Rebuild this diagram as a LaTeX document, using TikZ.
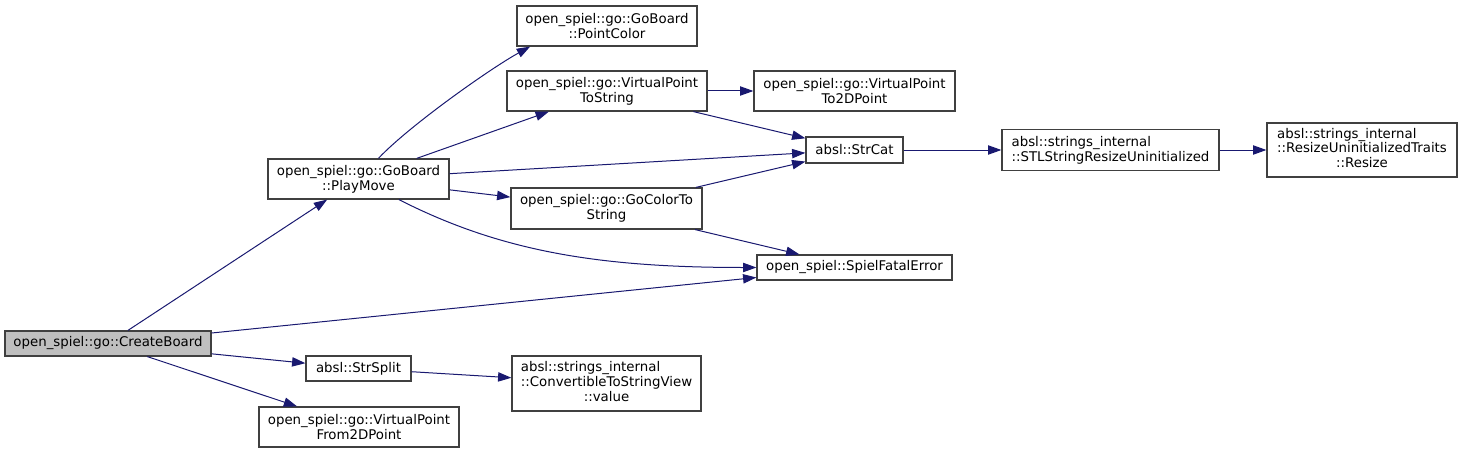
\documentclass[tikz,border=0pt]{standalone}
\usepackage{fontspec}
\setmainfont{DejaVu Sans}
\usepackage{tikz}
\usetikzlibrary{arrows.meta}
\definecolor{edgeblue}{HTML}{191970}
\definecolor{boxgray}{HTML}{404040}
\definecolor{rootgray}{HTML}{BFBFBF}
\tikzset{
  fn/.style={draw=boxgray,fill=white,line width=.9pt,inner sep=0pt,align=center,font=\fontsize{10}{11}\selectfont},
  root/.style={fn,fill=rootgray},
  boxsize/.style 2 args={minimum width=#1*.75pt,minimum height=#2*.75pt},
  call/.style={draw=edgeblue,line width=.75pt,-{Triangle[length=10pt,width=7pt]}}
}
\begin{document}
\begin{tikzpicture}[x=.75pt,y=-.75pt]
\useasboundingbox (0,0) rectangle (1463,453);
% functions
\node[root,boxsize={206}{25}] (createboard) at (108,343.5) {open\_spiel::go::CreateBoard};
\node[fn,boxsize={181}{40}] (playmove) at (358.5,179) {open\_spiel::go::GoBoard\\::PlayMove};
\node[fn,boxsize={105}{25}] (strsplit) at (358.5,368.5) {absl::StrSplit};
\node[fn,boxsize={200}{40}] (vpfrom2d) at (359,427) {open\_spiel::go::VirtualPoint\\From2DPoint};
\node[fn,boxsize={180}{40}] (pointcolor) at (607,26) {open\_spiel::go::GoBoard\\::PointColor};
\node[fn,boxsize={200}{40}] (vptostring) at (607,91) {open\_spiel::go::VirtualPoint\\ToString};
\node[fn,boxsize={191}{41}] (gocolor) at (606.5,208.5) {open\_spiel::go::GoColorTo\\String};
\node[fn,boxsize={189}{55}] (convview) at (606.5,383.5)
  {\begin{tabular}{@{}l@{}}absl::strings\_internal\\::ConvertibleToStringView\\\multicolumn{1}{@{}c@{}}{::value}\end{tabular}};
\node[fn,boxsize={201}{40}] (vpto2d) at (854.5,91) {open\_spiel::go::VirtualPoint\\To2DPoint};
\node[fn,boxsize={97}{26}] (strcat) at (854.5,150) {absl::StrCat};
\node[fn,boxsize={195}{25}] (fatal) at (854.5,267.5) {open\_spiel::SpielFatalError};
\node[fn,align=left,boxsize={217}{41}] (stlresize) at (1110.5,150) {absl::strings\_internal\\::STLStringResizeUninitialized};
\node[fn,boxsize={190}{54}] (resize) at (1362,150)
  {\begin{tabular}{@{}l@{}}absl::strings\_internal\\::ResizeUninitializedTraits\\\multicolumn{1}{@{}c@{}}{::Resize}\end{tabular}};
% calls
\draw[call] (createboard) -- (playmove);
\draw[call] (createboard) -- (fatal);
\draw[call] (createboard) -- (strsplit);
\draw[call] (createboard) -- (vpfrom2d);
\draw[call] (playmove.46) .. controls +(30,-32) and +(-40,22) .. (pointcolor.195);
\draw[call] (playmove) -- (vptostring);
\draw[call] (playmove) -- (strcat);
\draw[call] (playmove) -- (gocolor);
\draw[call] (playmove.-27) .. controls +(102,52) and +(-157,0) .. (fatal.west);
\draw[call] (vptostring) -- (vpto2d);
\draw[call] (vptostring) -- (strcat);
\draw[call] (gocolor) -- (strcat);
\draw[call] (gocolor) -- (fatal);
\draw[call] (strcat) -- (stlresize);
\draw[call] (stlresize) -- (resize);
\draw[call] (strsplit) -- (convview);
\end{tikzpicture}
\end{document}
